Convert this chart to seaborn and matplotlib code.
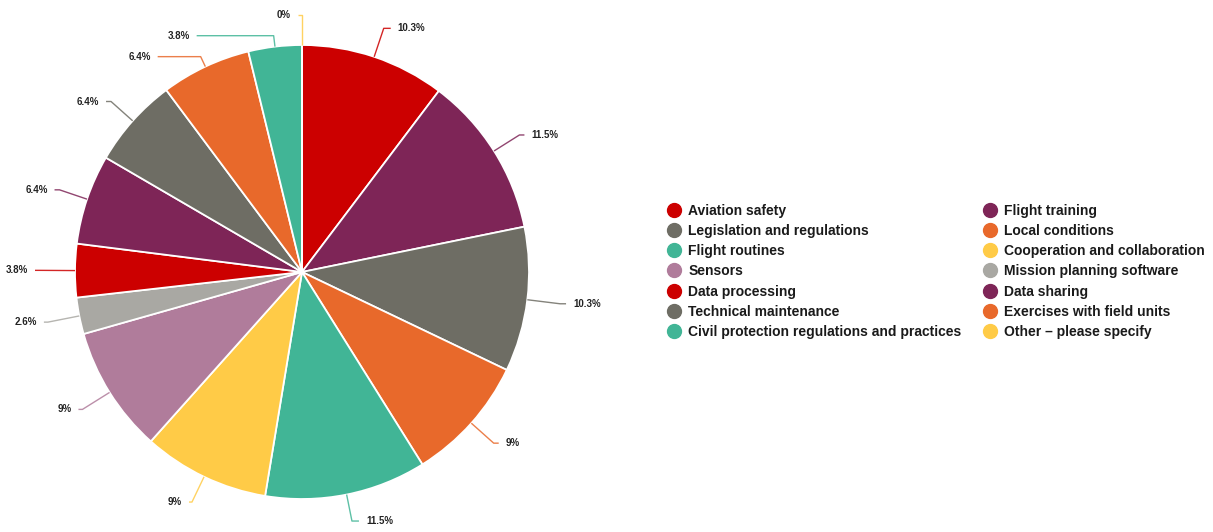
import matplotlib
matplotlib.use("Agg")
import matplotlib.pyplot as plt
import seaborn as sns
import numpy as np
from matplotlib.lines import Line2D

# ---------------- data ----------------
categories = [
    "Aviation safety", "Flight training", "Legislation and regulations",
    "Local conditions", "Flight routines", "Cooperation and collaboration",
    "Sensors", "Mission planning software", "Data processing", "Data sharing",
    "Technical maintenance", "Exercises with field units",
    "Civil protection regulations and practices", "Other \u2013 please specify",
]
values = [10.3, 11.5, 10.3, 9, 11.5, 9, 9, 2.6, 3.8, 6.4, 6.4, 6.4, 3.8, 0]
colors = [
    "#CC0000", "#7E2557", "#6E6D64", "#E8692B", "#41B596", "#FFCB47",
    "#B07C9B", "#A9A8A3", "#CC0000", "#7E2557", "#6E6D64", "#E8692B",
    "#41B596", "#FFCB47",
]

# ---------------- layout (pixels) ----------------
W, H = 1213, 532
R_PX = 227.0
CX, CY = 302.0, 272.0  # pie centre (from top-left)
radial_ext = [30, 30, 33, 30, 27, 28, 32, 32, 35, 29, 29, 11, 11, 30]
horiz_len = [7, 5, 6, 5, 7, 3, 4, 4, 5, 5, 5, 43, 77, 4]
TEXT_GAP = 7

sns.set_theme(style="white")
plt.rcParams["font.family"] = ["Liberation Sans", "DejaVu Sans"]

fig = plt.figure(figsize=(W / 100, H / 100), dpi=100)
ax = fig.add_axes([0, 0, 2 * CX / W, 1])

wedges, _ = ax.pie(
    values, colors=colors, startangle=90, counterclock=False, radius=1.0,
    wedgeprops=dict(edgecolor="white", linewidth=1.3),
)
ax.set_aspect("auto")
ax.set_xlim(-CX / R_PX, CX / R_PX)
ax.set_ylim(-(H - CY) / R_PX, CY / R_PX)
ax.axis("off")

# leader lines + labels
total = sum(values)
cum = 0.0
for i, v in enumerate(values):
    mid = cum + v / 2.0
    cum += v
    ang = np.deg2rad(90 - 360.0 * mid / total)
    ca, sa = np.cos(ang), np.sin(ang)
    p0 = np.array([ca, sa])
    p1 = p0 * (1 + radial_ext[i] / R_PX)
    if abs(ca) < 1e-6:
        side = -1 if mid >= total / 2 or v == 0 else 1
    else:
        side = 1 if ca > 0 else -1
    p2 = p1 + np.array([side * horiz_len[i] / R_PX, 0])
    ax.plot([p0[0], p1[0], p2[0]], [p0[1], p1[1], p2[1]], color=colors[i],
            lw=1.0, alpha=0.85, solid_capstyle="butt", clip_on=False)
    ax.text(p2[0] + side * TEXT_GAP / R_PX, p2[1], f"{v:g}%",
            ha="left" if side > 0 else "right", va="center",
            fontsize=7, fontweight="bold", color="#222222")

# legend (two columns, row-wise order)
handles = [Line2D([], [], marker="o", linestyle="", markersize=10,
                  markerfacecolor=c, markeredgecolor=c) for c in colors]
order = list(range(0, len(categories), 2)) + list(range(1, len(categories), 2))
leg = fig.legend(
    [handles[i] for i in order], [categories[i] for i in order],
    ncol=2, loc="upper left", bbox_to_anchor=(668 / W, 1 - 203.5 / H),
    frameon=False, borderpad=0, borderaxespad=0,
    handlelength=0.9, handletextpad=0.55, columnspacing=1.6,
    labelspacing=0.45, prop=dict(size=10.0, weight="bold"),
)
for t in leg.get_texts():
    t.set_color("#1a1a1a")

fig.savefig("out.png", dpi=100, facecolor="white")
